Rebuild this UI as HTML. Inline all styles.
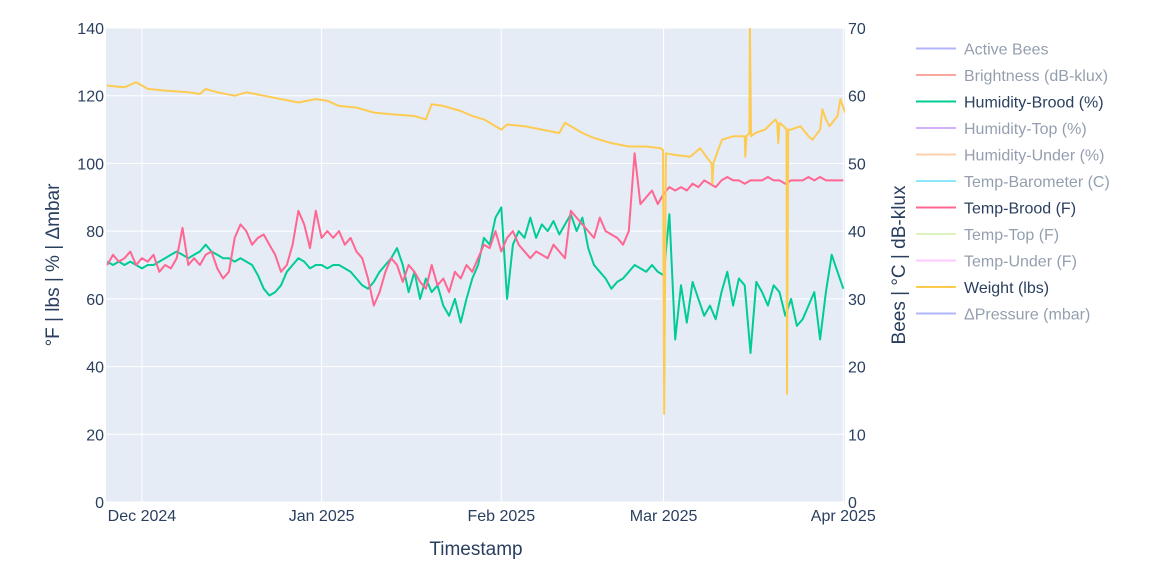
<!DOCTYPE html>
<html><head><meta charset="utf-8">
<style>
body{margin:0;background:#fff;}
svg{display:block;font-family:"Liberation Sans","DejaVu Sans",sans-serif;}
</style></head>
<body>
<svg id="chart" width="1154" height="570"></svg>
<script>
// ---- data ----
const startDate = "2024-11-25";
const monthTickDays = [6, 37, 68, 96, 127];
const monthTickLabels = ["Dec 2024", "Jan 2025", "Feb 2025", "Mar 2025", "Apr 2025"];
const leftTicks = [0, 20, 40, 60, 80, 100, 120, 140];
const rightTicks = [0, 10, 20, 30, 40, 50, 60, 70];
const humidityBrood = [71,70,71,70,71,70,69,70,70,71,72,
73,74,73,72,73,74,76,74,
73,72,72,71,72,71,70,67,63,61,
62,64,68,70,72,71,69,70,
70,69,70,70,69,68,
66,64,63,65,68,70,
72,75,70,62,68,60,66,
62,64,58,55,60,53,60,
66,70,78,76,84,87,
60,76,80,78,84,78,82,
80,83,79,82,85,80,84,
75,70,68,66,63,65,
66,68,70,69,68,70,68,67,
85,48,64,53,65,60,
55,58,54,62,68,58,66,64,
44,65,62,58,64,62,55,60,
52,54,58,62,48,62,73,68,63];
const tempBrood = [70,73,71,72,74,70,72,71,73,68,70,
69,72,81,70,
72,70,73,74,69,66,
68,78,82,80,76,78,
79,76,73,68,70,76,
86,82,75,86,78,80,
78,80,76,78,74,72,66,
58,62,68,72,70,65,70,
68,65,63,70,64,66,62,68,
66,70,68,72,76,75,80,74,
78,80,76,74,72,74,73,72,
76,74,72,86,84,82,
80,78,84,80,79,78,76,80,
103,88,90,92,88,91,93,
92,93,92,94,93,95,94,93,95,96,95,
95,94,95,95,95,96,95,95,94,95,95,95,96,95,96,95,95,95,95];
const weightDays = [0,3,5,7,10,14,16,17,19,22,24,27,30,33,36,38,40,43,46,49,53,55,56,58,61,63,65,67,68,69,72,75,78,79,80,82,84,87,90,93,
95.5,95.9,96.1,96.4,98,100.6,102.3,104,104.3,104.4,104.6,105.4,106.1,108,110,110.1,110.3,110.8,110.9,111.1,111.8,113.5,115.3,115.6,115.8,116,116.7,117.2,117.3,117.5,118,119.6,121,121.7,123,123.4,124,124.6,126,126.5,127.3];
const weightVals = [123,122.5,124,122,121.5,121,120.5,122,121,120,121,120,119,118,119,118.5,117,116.5,115,114.5,114,113,117.5,117,115.5,114,113,111,110,111.5,111,110,109,112,111,109,107.5,106,105,105,
104.5,104,26,103,102.5,102,104.5,100.5,100,94,100,104,107,108,108,102,108,109,141,108,109,110,113,112,106,112,111,110,32,110,110,111,108,107,110,116,113,111,114,119,115];
const legendNames = ["Active Bees","Brightness (dB-klux)","Humidity-Brood (%)","Humidity-Top (%)","Humidity-Under (%)","Temp-Barometer (C)","Temp-Brood (F)","Temp-Top (F)","Temp-Under (F)","Weight (lbs)","ΔPressure (mbar)"];
const legendColors = ["#636efa","#EF553B","#00cc96","#ab63fa","#FFA15A","#19d3f3","#FF6692","#B6E880","#FF97FF","#FECB52","#636efa"];
const legendVisible = [false,false,true,false,false,false,true,false,false,true,false];

// ---- layout ----
const NS = "http://www.w3.org/2000/svg";
const svg = document.getElementById("chart");
const L = 106, R = 845, T = 28, B = 502;
const dayMin = -0.2, dayMax = 127.3;
const xS = d => L + (d - dayMin) / (dayMax - dayMin) * (R - L);
const yL = v => B - v / 140 * (B - T);
const yR = v => B - v / 70 * (B - T);
function mk(tag, attrs, parent) {
  const e = document.createElementNS(NS, tag);
  for (const k in attrs) e.setAttribute(k, attrs[k]);
  (parent || svg).appendChild(e);
  return e;
}
const clip = mk("clipPath", {id: "pc"});
mk("rect", {x: L, y: T, width: R - L, height: B - T}, clip);

const bg = mk("rect", {x: L, y: T, width: R - L, height: B - T, fill: "#e5ecf6"});



// grid
leftTicks.forEach(v => {
  const g = mk("line", {x1: L, x2: R, y1: yL(v), y2: yL(v), stroke: "#fff", "stroke-width": 1});
  
  
  const t = mk("text", {x: 104, y: yL(v) + 6, "text-anchor": "end", "font-size": 16, fill: "#2a3f5f"});
  t.textContent = v;
  
  
});
rightTicks.forEach(v => {
  const t = mk("text", {x: 848, y: yR(v) + 6, "font-size": 16, fill: "#2a3f5f"});
  t.textContent = v;
  
  
});
monthTickDays.forEach((d, i) => {
  const g = mk("line", {x1: xS(d), x2: xS(d), y1: T, y2: B, stroke: "#fff", "stroke-width": 1});
  
  
  const t = mk("text", {x: xS(d), y: 521, "text-anchor": "middle", "font-size": 16, fill: "#2a3f5f"});
  t.textContent = monthTickLabels[i];
  
  
});

function line(days, vals, scale, color, name) {
  const pts = days.map((d, i) => xS(d).toFixed(1) + "," + scale(vals[i]).toFixed(1)).join(" ");
  const p = mk("polyline", {points: pts, fill: "none", stroke: color, "stroke-width": 2, "stroke-linejoin": "round", "clip-path": "url(#pc)"});
  
  
}
const dailyDays = humidityBrood.map((_, i) => i);
line(dailyDays, humidityBrood, yL, "#00cc96", "humidity-brood-line");
line(dailyDays.slice(0, tempBrood.length), tempBrood, yL, "#FF6692", "temp-brood-line");
line(weightDays, weightVals, yL, "#FECB52", "weight-line");

// axis titles
const xt = mk("text", {x: 476, y: 555, "text-anchor": "middle", "font-size": 19, fill: "#2a3f5f"});
xt.textContent = "Timestamp";


const ylt = mk("text", {x: 0, y: 0, "text-anchor": "middle", "font-size": 19, fill: "#2a3f5f", transform: "translate(59,265) rotate(-90)"});
ylt.textContent = "°F | lbs | % | Δmbar";


const yrt = mk("text", {x: 0, y: 0, "text-anchor": "middle", "font-size": 19, fill: "#2a3f5f", transform: "translate(905,265) rotate(-90)"});
yrt.textContent = "Bees | °C | dB-klux";



// legend
legendNames.forEach((n, i) => {
  const y = 48.5 + i * 26.5;
  const g = mk("g", {opacity: legendVisible[i] ? 1 : 0.5});
  
  
  mk("line", {x1: 916, x2: 956, y1: y, y2: y, stroke: legendColors[i], "stroke-width": 2}, g);
  const t = mk("text", {x: 964, y: y + 6, "font-size": 16, fill: "#2a3f5f"}, g);
  t.textContent = n;
});
</script>
</body></html>
